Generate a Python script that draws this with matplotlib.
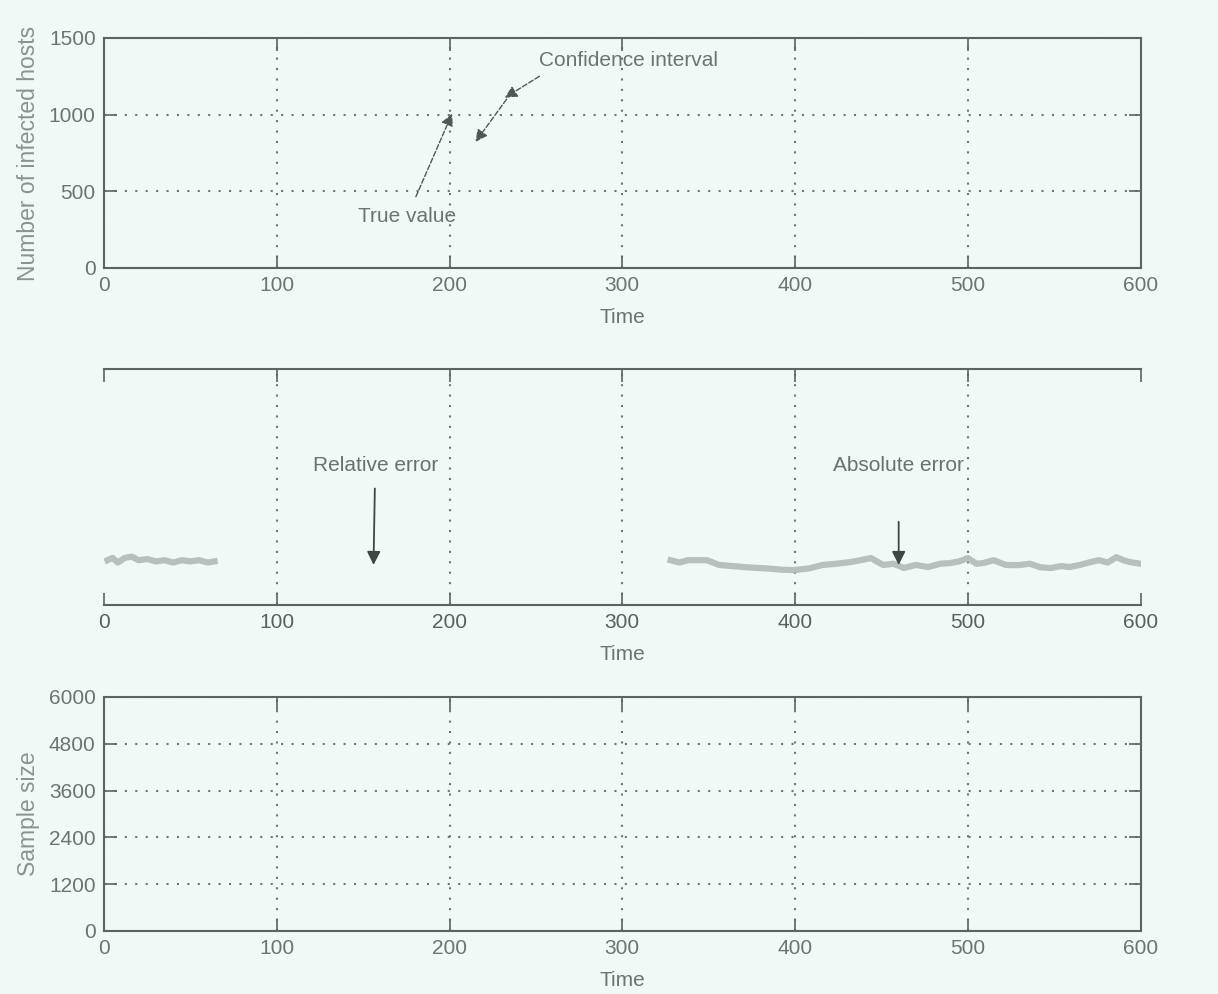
import numpy as np
import matplotlib.pyplot as plt

plt.rcParams['font.family'] = ['Liberation Sans', 'DejaVu Sans']

# time axis / ticks
xticks = [0, 100, 200, 300, 400, 500, 600]
yticks_top = [0, 500, 1000, 1500]
yticks_bot = [0, 1200, 2400, 3600, 4800, 6000]

# faint error traces left in the middle panel (relative units 0..1)
err_t_left = [2, 5, 8, 12, 16, 20, 25, 30, 35, 40, 45, 50, 55, 60, 64]
err_v_left = [0.19, 0.20, 0.18, 0.20, 0.205, 0.19, 0.195, 0.185, 0.19, 0.18, 0.19, 0.185, 0.19, 0.18, 0.185]
err_t_right = [328, 333, 338, 349, 356, 364, 372, 384, 392, 399, 408, 416, 424, 432, 438, 444,
               451, 457, 463, 470, 477, 484, 490, 495, 500, 505, 509, 515, 522, 529, 536,
               542, 548, 554, 559, 565, 571, 576, 581, 586, 590, 594, 600]
err_v_right = [0.19, 0.18, 0.19, 0.19, 0.17, 0.165, 0.16, 0.155, 0.15, 0.148, 0.155, 0.17, 0.175, 0.182, 0.19, 0.199,
               0.17, 0.175, 0.157, 0.17, 0.161, 0.175, 0.178, 0.185, 0.199, 0.175, 0.178, 0.19, 0.17, 0.169, 0.175,
               0.16, 0.157, 0.165, 0.161, 0.17, 0.182, 0.19, 0.18, 0.203, 0.19, 0.182, 0.175]

bg = '#f1f9f7'
spine_c = '#5c6462'
txt_c = '#6e7371'
lab_c = '#8c9290'
grid_c = '#6f7775'

fig = plt.figure(figsize=(12.18, 9.94), dpi=100, facecolor=bg)

def style(ax, hgrid=True):
    ax.set_facecolor(bg)
    ax.set_xlim(0, 600)
    ax.set_xticks(xticks)
    ax.tick_params(direction='in', length=9, width=1.2, color=spine_c, labelcolor=txt_c,
                   labelsize=15, top=True, right=True, pad=6)
    for s in ax.spines.values():
        s.set_color(spine_c)
        s.set_linewidth(1.5)
    ax.xaxis.grid(True, linestyle=(0, (1, 4)), color=grid_c, linewidth=1.5)
    if hgrid:
        ax.yaxis.grid(True, linestyle=(0, (1, 4)), color=grid_c, linewidth=1.5)
    ax.set_xlabel('Time', color=txt_c, fontsize=15, labelpad=9)

arr = dict(arrowstyle='-|>', color='#4f5856', lw=1, ls='--', shrinkA=0, shrinkB=0, mutation_scale=18)

# top panel
ax1 = fig.add_axes([0.0854, 0.7304, 0.851, 0.2314])
style(ax1)
ax1.set_ylim(0, 1500)
ax1.set_yticks(yticks_top)
ax1.set_ylabel('Number of infected hosts', color=lab_c, fontsize=16.5, labelpad=6)
ax1.text(252, 1350, 'Confidence interval', color=txt_c, fontsize=15, va='center', ha='left')
ax1.annotate('', xy=(232, 1110), xytext=(252, 1250), arrowprops=arr)
ax1.annotate('', xy=(215, 822), xytext=(233, 1100), arrowprops=arr)
ax1.annotate('True value', xy=(201.5, 1007), xytext=(175.5, 335), color=txt_c, fontsize=15,
             ha='center', va='center',
             arrowprops=dict(arr, shrinkA=6))

# middle panel
ax2 = fig.add_axes([0.0854, 0.3913, 0.851, 0.2374])
style(ax2, hgrid=False)
ax2.set_ylim(0, 1)
ax2.set_yticks([])
ax2.spines['left'].set_visible(False)
ax2.spines['right'].set_visible(False)
gl = ax2.get_xgridlines()
gl[0].set_visible(False)
gl[-1].set_visible(False)
ax2.tick_params(axis='x', labelcolor='#5a605e')
ax2.plot(err_t_left, err_v_left, color='#b3b9b7', lw=4.5, alpha=0.9)
ax2.plot(err_t_right, err_v_right, color='#b3b9b7', lw=4.5, alpha=0.9)
ax2.annotate('Relative error', xy=(156, 0.17), xytext=(157, 0.593), color='#6a706e', fontsize=15,
             ha='center', va='center',
             arrowprops=dict(arrowstyle='-|>', color='#3f4644', lw=1.3, shrinkA=8, shrinkB=0, mutation_scale=20))
ax2.annotate('Absolute error', xy=(460, 0.17), xytext=(460, 0.593), color='#6a706e', fontsize=15,
             ha='center', va='center',
             arrowprops=dict(arrowstyle='-|>', color='#3f4644', lw=1.3, shrinkA=32, shrinkB=0, mutation_scale=20))

# bottom panel
ax3 = fig.add_axes([0.0854, 0.0634, 0.851, 0.2354])
style(ax3)
ax3.set_ylim(0, 6000)
ax3.set_yticks(yticks_bot)
ax3.set_ylabel('Sample size', color=lab_c, fontsize=16.5, labelpad=6)

fig.savefig('out.png', dpi=100, facecolor=bg)
